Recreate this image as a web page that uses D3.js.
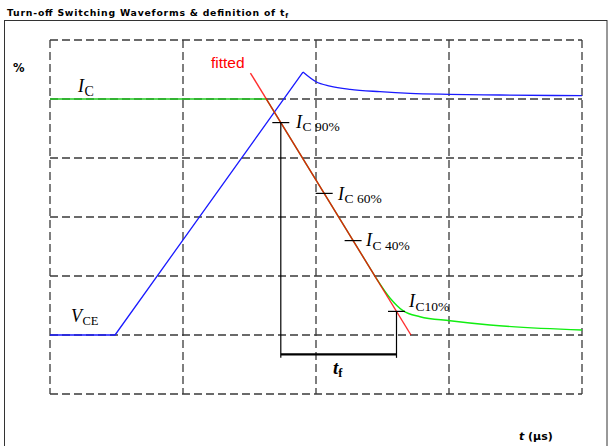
<!DOCTYPE html>
<html><head><meta charset="utf-8">
<script src="https://cdn.jsdelivr.net/npm/d3@7"></script>
<style>body{margin:0;background:#fff}svg{display:block}</style>
</head><body>
<script>
// ---- data ----
const gridT = [0, 1, 2, 3, 4];
const gridPct = [-25, 0, 25, 50, 75, 100, 125];
// V_CE waveform (blue)
const vceRiseT = [0, 0.489, 1.902];
const vceRiseV = [0, 0, 111.4];
const vceDecayT = [1.902, 2.0, 2.105, 2.256, 2.481, 2.707, 3.0, 3.383, 4.0];
const vceDecayV = [111.4, 107.3, 105.5, 104.1, 103.1, 102.4, 102.0, 101.7, 101.4];
// I_C waveform (green)
const icFallT = [0, 1.626, 2.45];
const icFallV = [100, 100, 24.3];
const icTailT = [2.45, 2.556, 2.654, 2.782, 3.008, 3.308, 4.0];
const icTailV = [24.3, 15.7, 10.3, 7.75, 6.06, 4.24, 2.1];
// fitted line (red)
const fitT = [1.507, 2.714];
const fitV = [111, 0];
// level markers
const levels = [90, 60, 40, 10];
const levelLabels = ["C 90%", "C 60%", "C 40%", "C10%"];
const tfLevel = -8.2;

// ---- scales ----
const W = 608, H = 446;
const x = d3.scaleLinear().domain([0, 4]).range([50, 582]);
const y = d3.scaleLinear().domain([-25, 125]).range([394, 40]);
const svg = d3.select("body").append("svg").attr("width", W).attr("height", H);

// outer frame
svg.append("rect").attr("x", 4.5).attr("y", 20.5).attr("width", 602.5).attr("height", 460)
  .attr("fill", "none").attr("stroke", "#333").attr("stroke-width", 1);

// title
const title = svg.append("text").attr("x", 7).attr("y", 16)
  .attr("font-family", "DejaVu Sans, Verdana, sans-serif").attr("font-weight", "bold")
  .attr("font-size", 9.3).attr("fill", "#000").attr("textLength", 281).attr("lengthAdjust", "spacing");
title.append("tspan").text("Turn-off Switching Waveforms & definition of t");
title.append("tspan").attr("font-size", 6.5).attr("dy", 2).text("f");

// grid
const g = svg.append("g");
g.selectAll("line.v").data(gridT).enter().append("line")
  .attr("x1", d => x(d)).attr("x2", d => x(d)).attr("y1", y(125)).attr("y2", y(-25))
  .attr("stroke", "#3a3a3a").attr("stroke-width", 1.3).attr("stroke-dasharray", "8,4");
g.selectAll("line.h").data(gridPct).enter().append("line")
  .attr("y1", d => y(d)).attr("y2", d => y(d)).attr("x1", x(0)).attr("x2", x(4))
  .attr("stroke", "#3a3a3a").attr("stroke-width", 1.3).attr("stroke-dasharray", "8,4");

const zip = (a, b) => a.map((v, i) => [v, b[i]]);
const lineLin = d3.line().x(d => x(d[0])).y(d => y(d[1]));
const lineMono = d3.line().x(d => x(d[0])).y(d => y(d[1])).curve(d3.curveMonotoneX);

// V_CE
svg.append("path").attr("d", lineLin(zip(vceRiseT, vceRiseV)))
  .attr("fill", "none").attr("stroke", "#1a1aff").attr("stroke-width", 1.3);
svg.append("path").attr("d", lineMono(zip(vceDecayT, vceDecayV)))
  .attr("fill", "none").attr("stroke", "#1a1aff").attr("stroke-width", 1.3);

// I_C
svg.append("path").attr("d", lineLin(zip(icFallT, icFallV)))
  .attr("fill", "none").attr("stroke", "#22cc22").attr("stroke-width", 1.4);
svg.append("path").attr("d", lineMono(zip(icTailT, icTailV)))
  .attr("fill", "none").attr("stroke", "#11ee11").attr("stroke-width", 1.4);

// fitted
svg.append("path").attr("d", lineLin(zip(fitT, fitV)))
  .attr("fill", "none").attr("stroke", "#ff0000").attr("stroke-opacity", 0.82).attr("stroke-width", 1.4);

// level positions on fitted line
const tAt = v => fitT[0] + (fitV[0] - v) * (fitT[1] - fitT[0]) / (fitV[0] - fitV[1]);
const marks = svg.append("g").attr("stroke", "#000").attr("stroke-width", 1.2);
levels.forEach(v => {
  marks.append("line").attr("x1", x(tAt(v)) - 8.5).attr("x2", x(tAt(v)) + 8.5)
    .attr("y1", y(v)).attr("y2", y(v));
});
// t_f bracket
const t90 = tAt(90), t10 = tAt(10);
marks.append("line").attr("x1", x(t90)).attr("x2", x(t90)).attr("y1", y(90)).attr("y2", y(tfLevel) + 3.5);
marks.append("line").attr("x1", x(t10)).attr("x2", x(t10)).attr("y1", y(10)).attr("y2", y(tfLevel) + 3.5);
svg.append("line").attr("x1", x(t90)).attr("x2", x(t10)).attr("y1", y(tfLevel)).attr("y2", y(tfLevel))
  .attr("stroke", "#000").attr("stroke-width", 2.2);

// labels
const serif = "Liberation Serif, DejaVu Serif, serif";
function subLabel(px, py, main, sub, mainSize, subSize, dy) {
  const t = svg.append("text").attr("x", px).attr("y", py).attr("font-family", serif).attr("fill", "#000");
  t.append("tspan").attr("font-style", "italic").attr("font-size", mainSize).text(main);
  t.append("tspan").attr("font-size", subSize).attr("dy", dy).attr("dx", 0.5).text(sub);
  return t;
}
const labelPos = [[296, 127.5], [338, 199.5], [366, 246], [409, 307]];
levels.forEach((v, i) => {
  subLabel(labelPos[i][0], labelPos[i][1], "I", levelLabels[i], 18, 13.5, 3.5);
});
subLabel(78, 92, "I", "C", 18, 14, 4);
subLabel(71, 322, "V", "CE", 18, 12.5, 3);

// t_f label
const tf = svg.append("text").attr("x", 333).attr("y", 374).attr("font-family", serif)
  .attr("font-weight", "bold").attr("fill", "#000");
tf.append("tspan").attr("font-style", "italic").attr("font-size", 19).text("t");
tf.append("tspan").attr("font-size", 12.5).attr("dy", 3).text("f");

// fitted label
svg.append("text").attr("x", 211).attr("y", 68).attr("font-family", "Liberation Sans, Arial, sans-serif")
  .attr("font-size", 15.5).attr("fill", "#ff0000").text("fitted");

// % label
svg.append("text").attr("x", 13).attr("y", 72).attr("font-family", "DejaVu Sans, Verdana, sans-serif")
  .attr("font-weight", "bold").attr("font-size", 11.5).text("%");

// axis label
const ax = svg.append("text").attr("x", 519).attr("y", 440).attr("font-family", "DejaVu Sans, Verdana, sans-serif")
  .attr("font-weight", "bold").attr("font-size", 11);
ax.append("tspan").attr("font-style", "italic").text("t");
ax.append("tspan").text(" (µs)");
</script>
</body></html>
